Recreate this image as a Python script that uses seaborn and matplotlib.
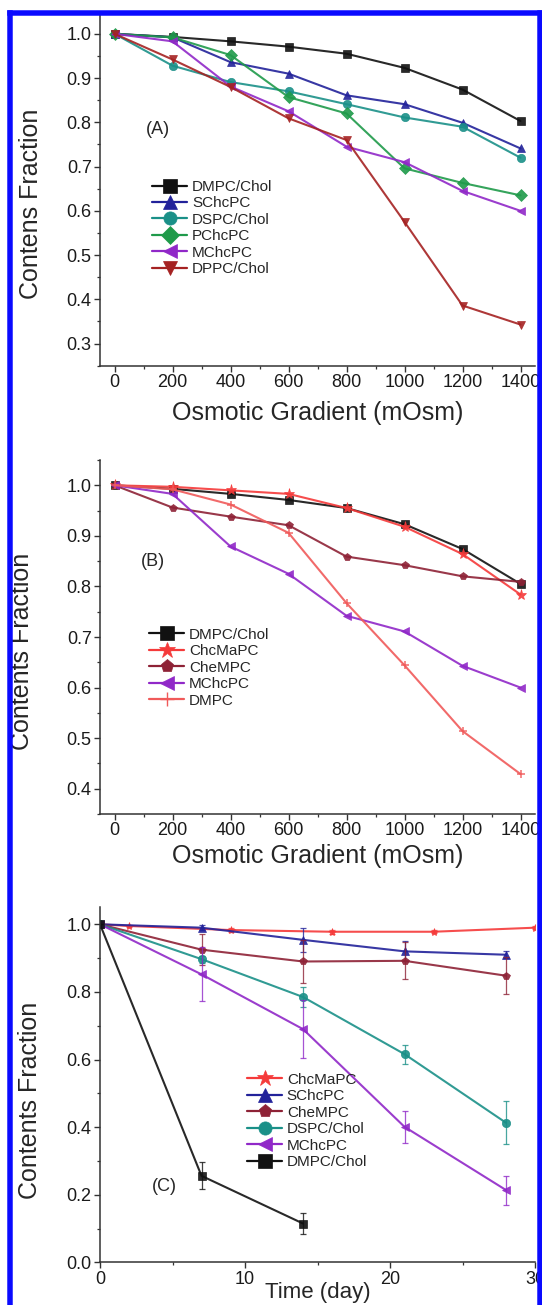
import numpy as np
import pandas as pd
import seaborn as sns
import matplotlib.pyplot as plt
from matplotlib.lines import Line2D
from matplotlib.ticker import MultipleLocator

sns.set_style('ticks')
plt.rcParams['font.family'] = ['Liberation Sans', 'DejaVu Sans']

# osmotic gradient (mOsm), panels A and B
osm = [0, 200, 400, 600, 800, 1000, 1200, 1400]

# panel A
dmpc_chol_a = [1.0, 0.993, 0.983, 0.971, 0.955, 0.923, 0.874, 0.803]
schcpc_a = [1.0, 0.992, 0.936, 0.910, 0.861, 0.841, 0.799, 0.741]
dspc_chol_a = [1.0, 0.928, 0.891, 0.870, 0.841, 0.811, 0.790, 0.720]
pchcpc_a = [1.0, 0.992, 0.952, 0.857, 0.820, 0.696, 0.663, 0.635]
mchcpc_a = [1.0, 0.983, 0.881, 0.825, 0.745, 0.710, 0.645, 0.600]
dppc_chol_a = [1.0, 0.942, 0.880, 0.809, 0.760, 0.575, 0.386, 0.343]

# panel B
dmpc_chol_b = [1.0, 0.993, 0.983, 0.971, 0.955, 0.923, 0.874, 0.805]
chcmapc_b = [1.0, 0.997, 0.990, 0.983, 0.955, 0.918, 0.864, 0.784]
chempc_b = [1.0, 0.956, 0.938, 0.921, 0.859, 0.842, 0.820, 0.809]
mchcpc_b = [1.0, 0.983, 0.879, 0.825, 0.742, 0.711, 0.643, 0.600]
dmpc_b = [1.0, 0.992, 0.962, 0.906, 0.767, 0.644, 0.514, 0.429]

# panel C, time (day)
days_chcmapc = [0, 2, 9, 16, 23, 30]
chcmapc_c = [1.0, 0.995, 0.983, 0.978, 0.978, 0.990]
chcmapc_err = [0.0, 0.004, 0.005, 0.006, 0.005, 0.005]
days = [0, 7, 14, 21, 28]
schcpc_c = [1.0, 0.990, 0.954, 0.920, 0.910]
schcpc_err = [0.0, 0.008, 0.035, 0.030, 0.010]
chempc_c = [1.0, 0.925, 0.890, 0.892, 0.848]
chempc_err = [0.0, 0.045, 0.065, 0.055, 0.055]
dspc_chol_c = [1.0, 0.897, 0.785, 0.616, 0.413]
dspc_chol_err = [0.0, 0.010, 0.030, 0.028, 0.063]
mchcpc_c = [1.0, 0.852, 0.690, 0.401, 0.214]
mchcpc_err = [0.0, 0.080, 0.085, 0.047, 0.043]
days_dmpc = [0, 7, 14]
dmpc_chol_c = [1.0, 0.256, 0.115]
dmpc_chol_err = [0.0, 0.040, 0.030]

colors = {
    'DMPC/Chol': '#111111', 'SChcPC': '#22229a', 'DSPC/Chol': '#1a9088',
    'PChcPC': '#1f9a4a', 'MChcPC': '#9028c8', 'DPPC/Chol': '#a52222',
    'ChcMaPC': '#f53a3a', 'CheMPC': '#8e2236', 'DMPC': '#f05a5a',
}
markers = {
    'DMPC/Chol': 's', 'SChcPC': '^', 'DSPC/Chol': 'o', 'PChcPC': 'D',
    'MChcPC': '<', 'DPPC/Chol': 'v', 'ChcMaPC': '*', 'CheMPC': 'p', 'DMPC': '+',
}

W, H = 542, 1305
fig = plt.figure(figsize=(W / 100, H / 100), dpi=100)

def px_axes(left, top, right, bottom):
    return fig.add_axes([left / W, 1 - bottom / H, (right - left) / W, (bottom - top) / H])

ax_a = px_axes(100, 11.7, 535, 365.7)
ax_b = px_axes(100, 460, 535, 814)
ax_c = px_axes(100, 907.4, 535, 1262.4)


def draw(ax, x, y, name, err=None, ms=6):
    df = pd.DataFrame({'x': x, 'y': y})
    sns.lineplot(data=df, x='x', y='y', ax=ax, color=colors[name], marker=markers[name],
                 markersize=ms if markers[name] != '*' else ms + 2,
                 markeredgecolor=colors[name], markeredgewidth=1.1 if markers[name] == '+' else 0.5,
                 linewidth=1.5, alpha=0.9, legend=False)
    if err is not None:
        ax.errorbar(x, y, yerr=err, fmt='none', ecolor=colors[name], elinewidth=0.9,
                    capsize=2.5, capthick=0.9, alpha=0.8)


def legend(ax, names, anchor):
    handles = [Line2D([], [], color=colors[n], marker=markers[n], markersize=9.5 if markers[n] != '*' else 12,
                      markeredgewidth=1 if markers[n] == '+' else 0.5, lw=1.6) for n in names]
    ax.legend(handles, names, loc='upper left', bbox_to_anchor=anchor, frameon=False,
              fontsize=11, handlelength=2.3, handletextpad=0.3, labelspacing=0.16,
              borderpad=0, borderaxespad=0)


def style(ax, xlim, ylim, xmaj, xmin, ymaj, ymin):
    ax.set_xlim(*xlim)
    ax.set_ylim(*ylim)
    ax.xaxis.set_major_locator(MultipleLocator(xmaj))
    ax.xaxis.set_minor_locator(MultipleLocator(xmin))
    ax.yaxis.set_major_locator(MultipleLocator(ymaj))
    ax.yaxis.set_minor_locator(MultipleLocator(ymin))
    sns.despine(ax=ax)
    for s in ['left', 'bottom']:
        ax.spines[s].set_color('#333333')
        ax.spines[s].set_linewidth(1.1)
    ax.tick_params(which='major', direction='out', length=4, width=1, colors='#333333',
                   labelsize=13, labelcolor='#1a1a1a', pad=2)
    ax.tick_params(which='minor', direction='out', length=2.2, width=0.9, colors='#333333')


# panel A
for name, vals in [('DMPC/Chol', dmpc_chol_a), ('SChcPC', schcpc_a), ('DSPC/Chol', dspc_chol_a),
                   ('PChcPC', pchcpc_a), ('MChcPC', mchcpc_a), ('DPPC/Chol', dppc_chol_a)]:
    draw(ax_a, osm, vals, name)
style(ax_a, (-50, 1450), (0.25, 1.05), 200, 100, 0.1, 0.05)
legend(ax_a, ['DMPC/Chol', 'SChcPC', 'DSPC/Chol', 'PChcPC', 'MChcPC', 'DPPC/Chol'], (0.12, 0.525))
ax_a.text(0.133, 0.666, '(A)', transform=ax_a.transAxes, ha='center', va='center', fontsize=13)
ax_a.set_xlabel('Osmotic Gradient (mOsm)', fontsize=18, va='center')
ax_a.set_ylabel('Contens Fraction', fontsize=18, va='center')
ax_a.xaxis.set_label_coords(0.5, -0.134)
ax_a.yaxis.set_label_coords(-0.159, 0.457)

# panel B
for name, vals in [('DMPC/Chol', dmpc_chol_b), ('ChcMaPC', chcmapc_b), ('CheMPC', chempc_b),
                   ('MChcPC', mchcpc_b), ('DMPC', dmpc_b)]:
    draw(ax_b, osm, vals, name)
style(ax_b, (-50, 1450), (0.35, 1.05), 200, 100, 0.1, 0.05)
legend(ax_b, ['DMPC/Chol', 'ChcMaPC', 'CheMPC', 'MChcPC', 'DMPC'], (0.113, 0.526))
ax_b.text(0.122, 0.712, '(B)', transform=ax_b.transAxes, ha='center', va='center', fontsize=13)
ax_b.set_xlabel('Osmotic Gradient (mOsm)', fontsize=18, va='center')
ax_b.set_ylabel('Contents Fraction', fontsize=18, va='center')
ax_b.xaxis.set_label_coords(0.5, -0.1175)
ax_b.yaxis.set_label_coords(-0.179, 0.459)

# panel C
draw(ax_c, days_chcmapc, chcmapc_c, 'ChcMaPC', chcmapc_err, ms=4)
draw(ax_c, days, schcpc_c, 'SChcPC', schcpc_err)
draw(ax_c, days, chempc_c, 'CheMPC', chempc_err)
draw(ax_c, days, dspc_chol_c, 'DSPC/Chol', dspc_chol_err)
draw(ax_c, days, mchcpc_c, 'MChcPC', mchcpc_err)
draw(ax_c, days_dmpc, dmpc_chol_c, 'DMPC/Chol', dmpc_chol_err)
style(ax_c, (0, 30), (0.0, 1.05), 10, 5, 0.2, 0.1)
legend(ax_c, ['ChcMaPC', 'SChcPC', 'CheMPC', 'DSPC/Chol', 'MChcPC', 'DMPC/Chol'], (0.338, 0.534))
ax_c.text(0.149, 0.215, '(C)', transform=ax_c.transAxes, ha='center', va='center', fontsize=13)
ax_c.set_xlabel('Time (day)', fontsize=16, va='center')
ax_c.set_ylabel('Contents Fraction', fontsize=18, va='center')
ax_c.xaxis.set_label_coords(0.5, -0.085)
ax_c.yaxis.set_label_coords(-0.162, 0.457)

for ax in (ax_a, ax_b, ax_c):
    ax.set_facecolor('white')

# blue frame round the figure (open at the bottom)
blue = '#0a0aff'
lw = 5.5 * 72 / 100
fig.add_artist(Line2D([9.5 / W, 9.5 / W], [0, 1 - 12.5 / H], color=blue, lw=lw,
                      transform=fig.transFigure, zorder=10, solid_capstyle='projecting'))
fig.add_artist(Line2D([539.5 / W, 539.5 / W], [0, 1 - 12.5 / H], color=blue, lw=lw,
                      transform=fig.transFigure, zorder=10, solid_capstyle='projecting'))
fig.add_artist(Line2D([9.5 / W, 539.5 / W], [1 - 12.5 / H, 1 - 12.5 / H], color=blue, lw=lw,
                      transform=fig.transFigure, zorder=10, solid_capstyle='projecting'))

fig.savefig('out.png', dpi=100, facecolor='white')
